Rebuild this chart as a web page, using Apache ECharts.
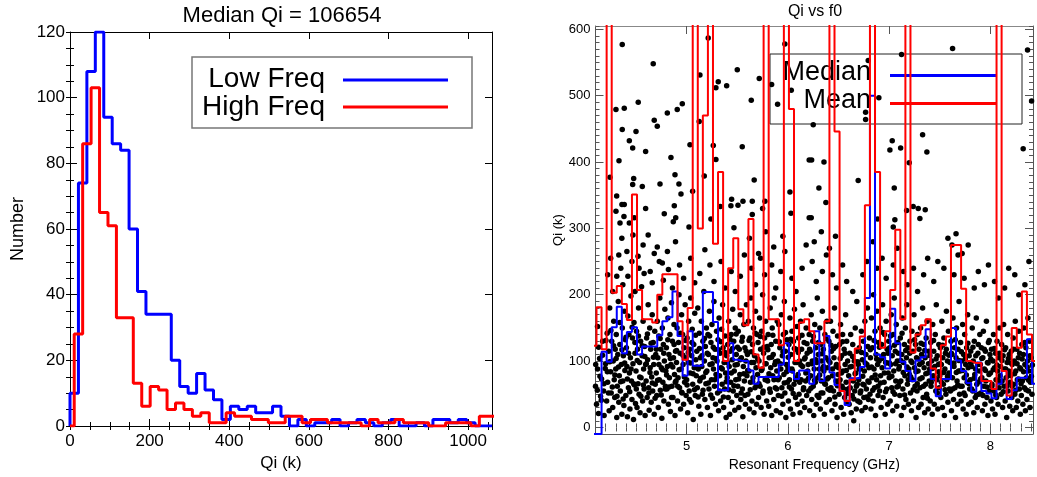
<!DOCTYPE html>
<html>
<head>
<meta charset="utf-8">
<title>Qi histograms</title>
<script src="https://cdn.jsdelivr.net/npm/echarts@6/dist/echarts.min.js"></script>
<style>
  html, body { margin: 0; padding: 0; background: #fff; }
  #chart { width: 1037px; height: 477px; }
</style>
</head>
<body>
<div id="chart"></div>
<script>
  // ---------- left panel: Qi histogram (bins of 21.2 k) ----------
  const qiBinWidth = 21.2;
  const lowFreqStart = 0;
  const highFreqStart = 10.6;
  const lowFreqCounts = [10, 74, 108, 120, 94, 86, 84, 60, 41, 34, 34, 34, 20, 12, 10, 16, 11, 8, 2, 6,
    5, 6, 4, 4, 6, 3, 0, 2, 0, 1, 1, 2, 0, 1, 2, 1, 0, 1, 2, 0, 0, 1, 0, 2, 2, 1, 2, 1, 0, 0];
  const highFreqCounts = [28, 86, 103, 65, 61, 33, 33, 13, 6, 12, 11, 5, 7, 5, 3, 4, 1, 1, 4, 3,
    3, 2, 2, 1, 1, 3, 3, 1, 2, 2, 1, 1, 1, 1, 0, 2, 1, 1, 2, 1, 1, 1, 0, 0, 1, 1, 1, 0, 3, 3];
  const qiTicks = [0, 200, 400, 600, 800, 1000];
  const countTicks = [0, 20, 40, 60, 80, 100, 120];

  // ---------- right panel: Qi vs f0 ----------
  const freqBinStart = 4.06;
  const freqBinWidth = 0.05;
  // median Qi per frequency bin (k); -10 = on the bottom axis
  const medianQi = [-10, -10, 114, 99, 151, 182, 112, 144, 151, 110, 122, 122, 122, 139, 160, 166, 205, 138, 78, 145,
    93, 93, 204, 204, 159, 56, 56, 127, 102, 100, 100, 86, 66, 76, 76, 76, 76, 95, 127, 84,
    73, 86, 86, 66, 145, 70, 138, 83, 64, 55, 34, 74, 74, 91, 195, 500, 110, 106, 89, 179,
    127, 99, 85, 70, 101, 106, 148, 73, 47, 73, 73, 150, 101, 85, 67, 54, 98, 55, 51, 44,
    66, 85, 43, 56, 75, 75, 133, 66];
  // mean Qi per frequency bin (k); values above 600 run off the top
  const meanQi = [123, 181, 118, 650, 203, 213, 186, 162, 351, 207, 163, 163, 158, 200, 231, 231, 231, 160, 102, 180,
    650, 300, 470, 650, 277, 385, 100, 240, 285, 178, 154, 314, 110, 90, 650, 163, 163, 124, 650, 480,
    100, 158, 163, 145, 127, 127, 160, 650, 446, 55, 40, 72, 119, 137, 335, 650, 385, 120, 145, 207,
    298, 163, 650, 113, 140, 154, 163, 89, 60, 124, 137, 275, 275, 209, 100, 97, 97, 70, 70, 58,
    650, 85, 48, 150, 120, 205, 140, 100];
  const freqTicks = [5, 6, 7, 8];
  const qiKTicks = [0, 100, 200, 300, 400, 500, 600];

  // individual resonators [f0 (GHz), Qi (k)] - sparse high ones
  const highDots = [
    [4.364, 577], [4.670, 548], [5.213, 587], [5.131, 531], [5.312, 521], [5.289, 512], [5.395, 515], [5.500, 539],
    [5.717, 526], [5.839, 517], [5.970, 578], [6.033, 508], [5.638, 493], [5.898, 487], [4.302, 479], [4.384, 481],
    [4.522, 490], [4.809, 474], [4.907, 479], [4.957, 488], [4.680, 463], [4.710, 454], [5.124, 461], [4.364, 449],
    [4.500, 446], [4.434, 432], [4.467, 421], [4.595, 416], [5.033, 426], [5.263, 425], [5.549, 423], [4.332, 402],
    [4.845, 407], [5.289, 404], [4.243, 377], [4.477, 375], [4.885, 381], [5.174, 379], [5.667, 373], [4.467, 366],
    [4.562, 363], [4.737, 367], [4.924, 367], [5.059, 356], [4.944, 352], [6.020, 355], [4.309, 349], [4.361, 336],
    [4.384, 336], [4.595, 330], [4.878, 334], [5.332, 333], [5.444, 344], [5.437, 334], [5.507, 335], [5.556, 341],
    [5.648, 341], [5.773, 341], [5.750, 330], [4.302, 326], [4.381, 318], [4.483, 316], [4.779, 322], [4.892, 316],
    [5.240, 314], [5.648, 321], [6.030, 323], [4.342, 308], [4.434, 308], [4.868, 310], [5.023, 302], [5.467, 301],
    [6.210, 403], [6.210, 316],
    [7.626, 571], [8.366, 569], [7.122, 562], [6.793, 553], [6.898, 497], [8.406, 492], [6.250, 456], [6.767, 475],
    [6.767, 464], [7.330, 441], [7.030, 432], [7.007, 418], [7.113, 421], [7.372, 415], [8.323, 420], [6.234, 403],
    [6.356, 400], [7.198, 399], [6.694, 372], [6.306, 361], [7.050, 361], [6.375, 339], [6.230, 316], [6.886, 314],
    [7.056, 313], [7.172, 327], [7.237, 333], [7.287, 330], [7.356, 328], [7.303, 315], [7.040, 302]
  ];
  // the dense cloud below ~300 k
  const cloudDots = [
    [4.10, 62], [4.11, 35], [4.12, 88], [4.13, 21], [4.14, 104], [4.15, 47], [4.16, 73], [4.17, 130], [4.18, 55], [4.185, 18], [4.12, 152],
    [4.20, 96], [4.21, 40], [4.215, 142], [4.22, 68], [4.23, 115], [4.235, 25], [4.24, 180], [4.25, 84], [4.255, 52], [4.26, 130], [4.27, 30], [4.275, 100], [4.28, 160], [4.285, 72], [4.29, 45], [4.295, 118], [4.22, 230], [4.27, 205], [4.25, 255],
    [4.30, 88], [4.305, 140], [4.31, 15], [4.315, 62], [4.32, 110], [4.325, 190], [4.33, 38], [4.335, 78], [4.34, 125], [4.345, 55], [4.35, 240], [4.355, 95], [4.36, 20], [4.365, 150], [4.37, 70], [4.375, 108], [4.38, 33], [4.385, 175], [4.39, 86], [4.395, 132], [4.33, 260], [4.37, 215], [4.36, 285], [4.31, 228],
    [4.40, 48], [4.405, 120], [4.41, 92], [4.415, 16], [4.42, 168], [4.425, 60], [4.43, 140], [4.435, 82], [4.44, 28], [4.445, 105], [4.45, 198], [4.455, 70], [4.46, 42], [4.465, 135], [4.47, 96], [4.475, 12], [4.48, 158], [4.485, 64], [4.49, 112], [4.495, 36], [4.42, 228], [4.46, 250], [4.49, 205], [4.41, 265], [4.47, 290],
    [4.50, 85], [4.505, 145], [4.51, 30], [4.515, 118], [4.52, 66], [4.525, 180], [4.53, 50], [4.535, 98], [4.54, 22], [4.545, 130], [4.55, 75], [4.555, 212], [4.56, 108], [4.565, 40], [4.57, 160], [4.575, 88], [4.58, 58], [4.585, 122], [4.59, 18], [4.595, 95], [4.53, 240], [4.57, 275], [4.52, 258], [4.58, 232],
    [4.60, 70], [4.605, 135], [4.61, 45], [4.615, 102], [4.62, 185], [4.625, 60], [4.63, 26], [4.635, 150], [4.64, 90], [4.645, 118], [4.65, 38], [4.655, 76], [4.66, 170], [4.665, 55], [4.67, 128], [4.675, 95], [4.68, 20], [4.685, 145], [4.69, 65], [4.695, 110], [4.64, 235], [4.68, 262], [4.62, 290], [4.66, 218],
    [4.70, 82], [4.705, 48], [4.71, 160], [4.715, 105], [4.72, 30], [4.725, 138], [4.73, 72], [4.735, 195], [4.74, 56], [4.745, 118], [4.75, 90], [4.755, 14], [4.76, 150], [4.765, 68], [4.77, 125], [4.775, 40], [4.78, 100], [4.785, 178], [4.79, 62], [4.795, 85], [4.73, 250], [4.77, 222], [4.71, 272], [4.76, 248],
    [4.80, 120], [4.805, 58], [4.81, 92], [4.815, 165], [4.82, 35], [4.825, 110], [4.83, 75], [4.835, 140], [4.84, 24], [4.845, 95], [4.85, 188], [4.855, 62], [4.86, 130], [4.865, 45], [4.87, 105], [4.875, 155], [4.88, 80], [4.885, 18], [4.89, 115], [4.895, 70], [4.82, 238], [4.86, 210], [4.89, 280], [4.81, 265],
    [4.90, 98], [4.905, 150], [4.91, 40], [4.915, 75], [4.92, 128], [4.925, 200], [4.93, 60], [4.935, 112], [4.94, 28], [4.945, 88], [4.95, 170], [4.955, 52], [4.96, 140], [4.965, 95], [4.97, 35], [4.975, 120], [4.98, 68], [4.985, 185], [4.99, 105], [4.995, 48], [4.93, 245], [4.97, 225],
    [5.00, 72], [5.005, 135], [5.01, 22], [5.015, 98], [5.02, 160], [5.025, 55], [5.03, 118], [5.035, 82], [5.04, 195], [5.045, 38], [5.05, 108], [5.055, 148], [5.06, 65], [5.065, 12], [5.07, 125], [5.075, 90], [5.08, 172], [5.085, 48], [5.09, 102], [5.095, 78], [5.04, 255], [5.08, 218],
    [5.10, 115], [5.105, 60], [5.11, 180], [5.115, 88], [5.12, 32], [5.125, 142], [5.13, 70], [5.135, 105], [5.14, 20], [5.145, 160], [5.15, 92], [5.155, 50], [5.16, 130], [5.165, 76], [5.17, 205], [5.175, 100], [5.18, 42], [5.185, 122], [5.19, 66], [5.195, 150], [5.13, 232], [5.18, 268],
    [5.20, 85], [5.205, 30], [5.21, 140], [5.215, 110], [5.22, 58], [5.225, 175], [5.23, 95], [5.235, 18], [5.24, 128], [5.245, 72], [5.25, 155], [5.255, 44], [5.26, 105], [5.265, 88], [5.27, 190], [5.275, 62], [5.28, 118], [5.285, 35], [5.29, 80], [5.295, 145], [5.23, 245], [5.27, 220],
    [5.30, 100], [5.305, 52], [5.31, 132], [5.315, 25], [5.32, 165], [5.325, 78], [5.33, 112], [5.335, 40], [5.34, 90], [5.345, 148], [5.35, 65], [5.355, 185], [5.36, 120], [5.365, 30], [5.37, 98], [5.375, 58], [5.38, 138], [5.385, 82], [5.39, 15], [5.395, 108], [5.34, 250], [5.38, 210],
    [5.40, 75], [5.405, 125], [5.41, 45], [5.415, 160], [5.42, 92], [5.425, 20], [5.43, 115], [5.435, 68], [5.44, 140], [5.445, 38], [5.45, 102], [5.455, 178], [5.46, 55], [5.465, 130], [5.47, 85], [5.475, 26], [5.48, 150], [5.485, 72], [5.49, 110], [5.495, 48], [5.44, 235], [5.48, 205],
    [5.50, 95], [5.505, 62], [5.51, 145], [5.515, 30], [5.52, 118], [5.525, 80], [5.53, 170], [5.535, 42], [5.54, 105], [5.545, 130], [5.55, 58], [5.555, 16], [5.56, 92], [5.565, 155], [5.57, 70], [5.575, 120], [5.58, 35], [5.585, 100], [5.59, 185], [5.595, 78], [5.53, 228], [5.57, 260],
    [5.60, 110], [5.605, 50], [5.61, 160], [5.615, 85], [5.62, 28], [5.625, 135], [5.63, 68], [5.635, 195], [5.64, 98], [5.645, 40], [5.65, 125], [5.655, 75], [5.66, 150], [5.665, 22], [5.67, 108], [5.675, 60], [5.68, 175], [5.685, 90], [5.69, 35], [5.695, 140], [5.64, 240], [5.68, 215], [5.62, 285],
    [5.70, 80], [5.705, 128], [5.71, 45], [5.715, 100], [5.72, 165], [5.725, 62], [5.73, 118], [5.735, 30], [5.74, 145], [5.745, 88], [5.75, 200], [5.755, 55], [5.76, 112], [5.765, 20], [5.77, 135], [5.775, 72], [5.78, 160], [5.785, 96], [5.79, 40], [5.795, 122], [5.73, 255], [5.77, 230], [5.71, 262], [5.78, 295],
    [5.80, 70], [5.805, 140], [5.81, 32], [5.815, 105], [5.82, 58], [5.825, 180], [5.83, 90], [5.835, 125], [5.84, 18], [5.845, 150], [5.85, 78], [5.855, 110], [5.86, 42], [5.865, 195], [5.87, 95], [5.875, 60], [5.88, 130], [5.885, 25], [5.89, 85], [5.895, 160], [5.84, 245], [5.88, 210], [5.86, 272],
    [5.90, 100], [5.905, 48], [5.91, 155], [5.915, 75], [5.92, 120], [5.925, 22], [5.93, 88], [5.935, 170], [5.94, 60], [5.945, 108], [5.95, 35], [5.955, 140], [5.96, 80], [5.965, 190], [5.97, 52], [5.975, 115], [5.98, 15], [5.985, 95], [5.99, 132], [5.995, 68], [5.93, 235], [5.97, 265], [5.95, 288],
    [6.00, 90], [6.005, 40], [6.01, 125], [6.015, 72], [6.02, 165], [6.025, 28], [6.03, 110], [6.035, 58], [6.04, 145], [6.045, 85], [6.05, 20], [6.055, 130], [6.06, 65], [6.065, 178], [6.07, 98], [6.075, 45], [6.08, 118], [6.085, 75], [6.09, 152], [6.095, 35], [6.04, 225], [6.08, 205],
    [6.10, 80], [6.105, 135], [6.11, 50], [6.115, 100], [6.12, 22], [6.125, 160], [6.13, 72], [6.135, 118], [6.14, 40], [6.145, 92], [6.15, 185], [6.155, 60], [6.16, 128], [6.165, 30], [6.17, 105], [6.175, 70], [6.18, 150], [6.185, 48], [6.19, 112], [6.195, 85], [6.14, 240], [6.18, 275],
    [6.20, 95], [6.205, 55], [6.21, 140], [6.215, 25], [6.22, 115], [6.225, 78], [6.23, 170], [6.235, 42], [6.24, 100], [6.245, 130], [6.25, 62], [6.255, 18], [6.26, 88], [6.265, 155], [6.27, 68], [6.275, 120], [6.28, 35], [6.285, 98], [6.29, 195], [6.295, 75], [6.24, 250], [6.28, 220], [6.26, 280],
    [6.30, 110], [6.305, 45], [6.31, 88], [6.315, 150], [6.32, 28], [6.325, 125], [6.33, 70], [6.335, 100], [6.34, 175], [6.345, 52], [6.35, 118], [6.355, 85], [6.36, 20], [6.365, 140], [6.37, 65], [6.375, 105], [6.38, 38], [6.385, 160], [6.39, 90], [6.395, 58], [6.34, 235], [6.38, 260], [6.33, 295],
    [6.40, 75], [6.405, 130], [6.41, 42], [6.415, 98], [6.42, 160], [6.425, 60], [6.43, 115], [6.435, 25], [6.44, 88], [6.445, 145], [6.45, 55], [6.455, 105], [6.46, 180], [6.465, 35], [6.47, 122], [6.475, 70], [6.48, 95], [6.485, 15], [6.49, 138], [6.495, 80], [6.44, 230], [6.48, 210], [6.41, 270], [6.47, 288],
    [6.50, 90], [6.505, 50], [6.51, 125], [6.515, 72], [6.52, 155], [6.525, 30], [6.53, 108], [6.535, 62], [6.54, 140], [6.545, 85], [6.55, 20], [6.555, 118], [6.56, 45], [6.565, 95], [6.57, 170], [6.575, 68], [6.58, 130], [6.585, 38], [6.59, 100], [6.595, 58], [6.54, 245], [6.58, 220],
    [6.60, 78], [6.605, 35], [6.61, 112], [6.615, 60], [6.62, 140], [6.625, 22], [6.63, 92], [6.635, 48], [6.64, 125], [6.645, 70], [6.65, 10], [6.655, 100], [6.66, 55], [6.665, 150], [6.67, 82], [6.675, 28], [6.68, 115], [6.685, 65], [6.69, 40], [6.695, 95], [6.64, 205], [6.68, 190],
    [6.70, 72], [6.705, 120], [6.71, 38], [6.715, 88], [6.72, 55], [6.725, 145], [6.73, 25], [6.735, 102], [6.74, 65], [6.745, 130], [6.75, 45], [6.755, 85], [6.76, 160], [6.765, 30], [6.77, 110], [6.775, 58], [6.78, 95], [6.785, 180], [6.79, 70], [6.795, 42], [6.74, 230], [6.78, 250],
    [6.80, 90], [6.805, 135], [6.81, 50], [6.815, 105], [6.82, 28], [6.825, 165], [6.83, 75], [6.835, 120], [6.84, 40], [6.845, 200], [6.85, 88], [6.855, 60], [6.86, 145], [6.865, 18], [6.87, 110], [6.875, 72], [6.88, 175], [6.885, 95], [6.89, 48], [6.895, 128], [6.84, 280], [6.88, 240],
    [6.90, 100], [6.905, 55], [6.91, 150], [6.915, 78], [6.92, 30], [6.925, 125], [6.93, 90], [6.935, 185], [6.94, 45], [6.945, 110], [6.95, 68], [6.955, 140], [6.96, 20], [6.965, 98], [6.97, 160], [6.975, 58], [6.98, 118], [6.985, 35], [6.99, 82], [6.995, 130], [6.93, 255], [6.97, 225],
    [7.00, 75], [7.005, 120], [7.01, 40], [7.015, 95], [7.02, 170], [7.025, 60], [7.03, 108], [7.035, 25], [7.04, 140], [7.045, 85], [7.05, 195], [7.055, 50], [7.06, 115], [7.065, 70], [7.07, 155], [7.075, 32], [7.08, 100], [7.085, 128], [7.09, 62], [7.095, 88], [7.04, 245], [7.08, 270],
    [7.10, 92], [7.105, 48], [7.11, 135], [7.115, 70], [7.12, 18], [7.125, 110], [7.13, 165], [7.135, 58], [7.14, 98], [7.145, 30], [7.15, 125], [7.155, 78], [7.16, 150], [7.165, 42], [7.17, 105], [7.175, 185], [7.18, 65], [7.185, 120], [7.19, 35], [7.195, 88], [7.14, 235], [7.18, 215],
    [7.20, 80], [7.205, 130], [7.21, 52], [7.215, 100], [7.22, 25], [7.225, 145], [7.23, 72], [7.235, 115], [7.24, 40], [7.245, 170], [7.25, 90], [7.255, 62], [7.26, 125], [7.265, 15], [7.27, 105], [7.275, 55], [7.28, 140], [7.285, 85], [7.29, 30], [7.295, 118], [7.24, 240], [7.28, 205],
    [7.30, 95], [7.305, 60], [7.31, 150], [7.315, 35], [7.32, 110], [7.325, 75], [7.33, 180], [7.335, 45], [7.34, 125], [7.345, 90], [7.35, 22], [7.355, 105], [7.36, 65], [7.365, 135], [7.37, 50], [7.375, 160], [7.38, 82], [7.385, 28], [7.39, 115], [7.395, 70], [7.34, 230], [7.38, 255],
    [7.40, 88], [7.405, 40], [7.41, 128], [7.415, 68], [7.42, 100], [7.425, 20], [7.43, 155], [7.435, 78], [7.44, 115], [7.445, 35], [7.45, 92], [7.455, 140], [7.46, 55], [7.465, 185], [7.47, 72], [7.475, 108], [7.48, 28], [7.485, 95], [7.49, 125], [7.495, 60], [7.44, 220], [7.48, 250],
    [7.50, 78], [7.505, 120], [7.51, 45], [7.515, 95], [7.52, 160], [7.525, 30], [7.53, 105], [7.535, 65], [7.54, 135], [7.545, 18], [7.55, 88], [7.555, 112], [7.56, 50], [7.565, 175], [7.57, 72], [7.575, 100], [7.58, 38], [7.585, 145], [7.59, 82], [7.595, 58], [7.54, 240], [7.58, 285],
    [7.60, 98], [7.605, 55], [7.61, 130], [7.615, 25], [7.62, 110], [7.625, 75], [7.63, 165], [7.635, 42], [7.64, 92], [7.645, 120], [7.65, 60], [7.655, 15], [7.66, 105], [7.665, 150], [7.67, 70], [7.675, 35], [7.68, 118], [7.685, 85], [7.69, 190], [7.695, 50], [7.64, 230], [7.68, 260], [7.62, 275], [7.66, 292],
    [7.70, 85], [7.705, 128], [7.71, 40], [7.715, 100], [7.72, 62], [7.725, 155], [7.73, 28], [7.735, 110], [7.74, 75], [7.745, 140], [7.75, 48], [7.755, 95], [7.76, 20], [7.765, 120], [7.77, 68], [7.775, 170], [7.78, 90], [7.785, 35], [7.79, 108], [7.795, 58], [7.74, 225], [7.78, 275], [7.72, 262],
    [7.80, 72], [7.805, 115], [7.81, 38], [7.815, 92], [7.82, 150], [7.825, 55], [7.83, 100], [7.835, 22], [7.84, 130], [7.845, 80], [7.85, 45], [7.855, 108], [7.86, 165], [7.865, 65], [7.87, 30], [7.875, 95], [7.88, 125], [7.885, 50], [7.89, 85], [7.895, 140], [7.84, 210], [7.88, 235],
    [7.90, 95], [7.905, 52], [7.91, 120], [7.915, 75], [7.92, 25], [7.925, 105], [7.93, 145], [7.935, 62], [7.94, 88], [7.945, 35], [7.95, 115], [7.955, 70], [7.96, 160], [7.965, 45], [7.97, 98], [7.975, 18], [7.98, 128], [7.985, 80], [7.99, 55], [7.995, 110], [7.94, 215], [7.98, 245],
    [8.00, 82], [8.005, 40], [8.01, 118], [8.015, 65], [8.02, 28], [8.025, 100], [8.03, 140], [8.035, 55], [8.04, 90], [8.045, 20], [8.05, 112], [8.055, 72], [8.06, 45], [8.065, 130], [8.07, 85], [8.075, 35], [8.08, 105], [8.085, 60], [8.09, 150], [8.095, 78], [8.04, 220], [8.08, 195],
    [8.10, 92], [8.105, 50], [8.11, 125], [8.115, 70], [8.12, 30], [8.125, 108], [8.13, 155], [8.135, 62], [8.14, 88], [8.145, 40], [8.15, 120], [8.155, 75], [8.16, 15], [8.165, 98], [8.17, 140], [8.175, 55], [8.18, 85], [8.185, 110], [8.19, 32], [8.195, 68], [8.14, 210], [8.18, 240],
    [8.20, 78], [8.205, 115], [8.21, 45], [8.215, 95], [8.22, 25], [8.225, 135], [8.23, 65], [8.235, 100], [8.24, 50], [8.245, 160], [8.25, 85], [8.255, 30], [8.26, 118], [8.265, 72], [8.27, 40], [8.275, 105], [8.28, 145], [8.285, 58], [8.29, 90], [8.295, 20], [8.24, 230], [8.28, 200],
    [8.30, 88], [8.305, 48], [8.31, 125], [8.315, 70], [8.32, 35], [8.325, 110], [8.33, 150], [8.335, 60], [8.34, 95], [8.345, 25], [8.35, 120], [8.355, 75], [8.36, 42], [8.365, 100], [8.37, 165], [8.375, 55], [8.38, 85], [8.385, 130], [8.39, 30], [8.395, 68], [8.40, 105], [8.41, 50], [8.34, 215], [8.38, 250]
  ];
  // more of the core of the cloud (40-160 k), where the dots overlap
  const coreDots = [
    [4.102, 95], [4.118, 56], [4.131, 121], [4.144, 77], [4.157, 41], [4.169, 109], [4.183, 66], [4.196, 89],
    [4.203, 131], [4.217, 84], [4.228, 52], [4.241, 99], [4.252, 146], [4.266, 61], [4.279, 123], [4.291, 79],
    [4.304, 104], [4.312, 47], [4.327, 91], [4.339, 158], [4.348, 69], [4.361, 117], [4.373, 43], [4.388, 97],
    [4.401, 136], [4.414, 73], [4.426, 112], [4.438, 54], [4.451, 88], [4.462, 151], [4.477, 66], [4.489, 128],
    [4.503, 58], [4.512, 101], [4.524, 138], [4.537, 76], [4.548, 47], [4.561, 123], [4.573, 64], [4.587, 107],
    [4.602, 96], [4.613, 141], [4.627, 52], [4.638, 83], [4.649, 127], [4.661, 67], [4.672, 106], [4.688, 44],
    [4.701, 118], [4.713, 71], [4.726, 95], [4.738, 134], [4.749, 49], [4.762, 87], [4.774, 112], [4.789, 58],
    [4.802, 79], [4.814, 132], [4.827, 61], [4.839, 104], [4.851, 45], [4.863, 91], [4.876, 125], [4.888, 68],
    [4.901, 116], [4.912, 62], [4.926, 87], [4.938, 142], [4.951, 53], [4.963, 109], [4.977, 76], [4.989, 131],
    [5.004, 64], [5.016, 113], [5.028, 42], [5.039, 97], [5.052, 128], [5.063, 81], [5.077, 57], [5.088, 139],
    [5.102, 91], [5.113, 46], [5.127, 119], [5.138, 74], [5.151, 108], [5.162, 56], [5.176, 134], [5.189, 83],
    [5.203, 112], [5.214, 67], [5.227, 138], [5.238, 49], [5.252, 96], [5.263, 121], [5.277, 72], [5.289, 104],
    [5.302, 78], [5.316, 117], [5.327, 55], [5.339, 129], [5.352, 88], [5.363, 46], [5.378, 113], [5.391, 69],
    [5.404, 98], [5.417, 57], [5.428, 133], [5.441, 82], [5.453, 119], [5.466, 63], [5.478, 94], [5.489, 141],
    [5.502, 121], [5.514, 73], [5.527, 102], [5.538, 52], [5.551, 136], [5.564, 81], [5.576, 48], [5.588, 115],
    [5.603, 86], [5.616, 131], [5.628, 57], [5.639, 114], [5.652, 69], [5.663, 98], [5.677, 142], [5.689, 63],
    [5.702, 103], [5.714, 66], [5.727, 137], [5.738, 86], [5.752, 52], [5.763, 121], [5.776, 96], [5.788, 74],
    [5.802, 117], [5.813, 81], [5.826, 53], [5.839, 106], [5.851, 139], [5.862, 72], [5.877, 99], [5.889, 58],
    [5.903, 72], [5.915, 129], [5.926, 96], [5.938, 47], [5.951, 114], [5.964, 67], [5.976, 143], [5.987, 84],
    [6.003, 106], [6.014, 61], [6.027, 133], [6.039, 88], [6.052, 51], [6.064, 119], [6.077, 72], [6.089, 98],
    [6.102, 113], [6.116, 68], [6.128, 94], [6.139, 139], [6.152, 57], [6.163, 103], [6.177, 82], [6.188, 126],
    [6.203, 74], [6.214, 118], [6.227, 59], [6.238, 96], [6.251, 137], [6.263, 71], [6.276, 102], [6.289, 48],
    [6.302, 128], [6.313, 79], [6.327, 52], [6.338, 111], [6.352, 92], [6.364, 66], [6.377, 134], [6.388, 73],
    [6.401, 101], [6.414, 56], [6.426, 124], [6.439, 78], [6.452, 119], [6.463, 46], [6.476, 92], [6.489, 63],
    [6.503, 67], [6.516, 104], [6.528, 82], [6.539, 129], [6.552, 58], [6.564, 112], [6.577, 86], [6.588, 51],
    [6.602, 58], [6.613, 91], [6.626, 71], [6.638, 107], [6.651, 43], [6.663, 81], [6.676, 62], [6.689, 99],
    [6.703, 88], [6.714, 52], [6.727, 113], [6.739, 77], [6.752, 64], [6.763, 97], [6.777, 46], [6.788, 122],
    [6.801, 68], [6.813, 117], [6.826, 91], [6.838, 56], [6.851, 131], [6.862, 79], [6.876, 103], [6.889, 62],
    [6.903, 121], [6.914, 67], [6.927, 104], [6.939, 143], [6.952, 82], [6.964, 54], [6.977, 97], [6.988, 112],
    [7.002, 97], [7.013, 138], [7.026, 77], [7.038, 54], [7.051, 124], [7.063, 96], [7.076, 61], [7.089, 112],
    [7.101, 68], [7.114, 101], [7.127, 142], [7.139, 83], [7.152, 49], [7.163, 116], [7.176, 91], [7.188, 72],
    [7.202, 112], [7.213, 76], [7.226, 98], [7.238, 57], [7.251, 132], [7.264, 84], [7.277, 66], [7.289, 103],
    [7.303, 73], [7.314, 127], [7.326, 98], [7.339, 62], [7.351, 116], [7.362, 81], [7.377, 44], [7.388, 96],
    [7.402, 108], [7.413, 62], [7.427, 89], [7.438, 131], [7.452, 74], [7.463, 103], [7.476, 52], [7.489, 84],
    [7.502, 96], [7.515, 68], [7.527, 124], [7.538, 83], [7.551, 57], [7.564, 118], [7.576, 77], [7.589, 109],
    [7.603, 76], [7.614, 112], [7.627, 58], [7.639, 97], [7.652, 132], [7.663, 83], [7.677, 64], [7.688, 101],
    [7.701, 62], [7.713, 114], [7.726, 86], [7.738, 52], [7.751, 103], [7.762, 79], [7.777, 127], [7.788, 66],
    [7.803, 97], [7.814, 58], [7.827, 121], [7.838, 74], [7.852, 88], [7.863, 49], [7.876, 112], [7.889, 69],
    [7.902, 73], [7.914, 104], [7.926, 48], [7.939, 118], [7.951, 86], [7.964, 61], [7.977, 97], [7.988, 131],
    [8.003, 103], [8.014, 62], [8.027, 87], [8.038, 119], [8.052, 49], [8.063, 94], [8.076, 71], [8.089, 112],
    [8.102, 68], [8.113, 101], [8.126, 54], [8.139, 117], [8.151, 88], [8.164, 63], [8.177, 104], [8.188, 79],
    [8.202, 97], [8.214, 62], [8.227, 118], [8.238, 81], [8.251, 56], [8.263, 96], [8.276, 73], [8.288, 112],
    [8.302, 66], [8.313, 103], [8.327, 84], [8.339, 128], [8.351, 57], [8.363, 91], [8.377, 71], [8.389, 108], [8.404, 77], [8.414, 94]
  ];

  // histogram outline points for a step line
  function histSteps(start, width, counts, lead) {
    const pts = lead ? [[0, 0]] : [];
    counts.forEach((c, i) => pts.push([+(start + i * width).toFixed(3), c]));
    pts.push([+(start + counts.length * width).toFixed(3), counts[counts.length - 1]]);
    return pts;
  }

  const FONT = "Liberation Sans";

  // one axis of a boxed (IDL style) frame: ticks inside, labels only where asked
  function frameAxis(grid, pos, min, max, tickLen, color, extra) {
    const ax = {
      type: "value",
      gridIndex: grid,
      position: pos,
      min: min,
      max: max,
      axisLine: { show: true, onZero: false, lineStyle: { color: color, width: 1 } },
      axisTick: { show: true, inside: true, length: tickLen, lineStyle: { color: color } },
      axisLabel: { show: false },
      splitLine: { show: false },
    };
    return Object.assign(ax, extra || {});
  }

  function majorTicks(vals, len, color) {
    return { show: true, inside: true, length: len, customValues: vals, lineStyle: { color: color } };
  }

  const plain = (v) => String(v);
  const leftLbl = { show: true, fontFamily: FONT, fontSize: 17, color: "#000", formatter: plain };
  const rightLbl = { show: true, fontFamily: FONT, fontSize: 13, color: "#000", formatter: plain };

  const option = {
    animation: false,
    backgroundColor: "#fff",
    grid: [
      { left: 70, top: 32, width: 422, height: 394 },
      { left: 595.5, top: 26, width: 437.5, height: 412 },
    ],
    xAxis: [
      // left panel
      frameAxis(0, "bottom", 0, 1060, 7, "#000", {
        axisTick: majorTicks(qiTicks, 7, "#000"),
        axisLabel: Object.assign({ customValues: qiTicks, margin: 7 }, leftLbl),
        name: "Qi (k)", nameLocation: "middle", nameGap: 28,
        nameTextStyle: { fontFamily: FONT, fontSize: 17, color: "#000" },
      }),
      frameAxis(0, "bottom", 0, 1060, 4, "#000", { interval: 50, axisLine: { show: false } }),
      frameAxis(0, "top", 0, 1060, 7, "#000", { axisTick: majorTicks(qiTicks, 7, "#000") }),
      frameAxis(0, "top", 0, 1060, 4, "#000", { interval: 50, axisLine: { show: false } }),
      // right panel
      frameAxis(1, "bottom", 4.1, 8.42, 8, "#555", {
        axisTick: majorTicks(freqTicks, 8, "#555"),
        axisLabel: Object.assign({ customValues: freqTicks, margin: 6 }, rightLbl),
        name: "Resonant Frequency (GHz)", nameLocation: "middle", nameGap: 20,
        nameTextStyle: { fontFamily: FONT, fontSize: 14, color: "#000" },
      }),
      frameAxis(1, "bottom", 4.1, 8.42, 4, "#555", { interval: 0.1, axisLine: { show: false } }),
      frameAxis(1, "top", 4.1, 8.42, 8, "#888", { axisTick: majorTicks(freqTicks, 8, "#555") }),
      frameAxis(1, "top", 4.1, 8.42, 4, "#555", { interval: 0.1, axisLine: { show: false } }),
    ],
    yAxis: [
      // left panel
      frameAxis(0, "left", 0, 120, 7, "#000", {
        axisTick: majorTicks(countTicks, 7, "#000"),
        axisLabel: Object.assign({ customValues: countTicks, margin: 5 }, leftLbl),
        name: "Number", nameLocation: "middle", nameGap: 43,
        nameTextStyle: { fontFamily: FONT, fontSize: 18, color: "#000" },
      }),
      frameAxis(0, "left", 0, 120, 4, "#000", { interval: 5, axisLine: { show: false } }),
      frameAxis(0, "right", 0, 120, 7, "#000", { axisTick: majorTicks(countTicks, 7, "#000") }),
      frameAxis(0, "right", 0, 120, 4, "#000", { interval: 5, axisLine: { show: false } }),
      // right panel
      frameAxis(1, "left", -10, 605, 8, "#555", {
        axisTick: majorTicks(qiKTicks, 8, "#555"),
        axisLabel: Object.assign({ customValues: qiKTicks, margin: 5 }, rightLbl),
        name: "Qi (k)", nameLocation: "middle", nameGap: 22,
        nameTextStyle: { fontFamily: FONT, fontSize: 13, color: "#000" },
      }),
      frameAxis(1, "left", -10, 605, 4, "#555", { interval: 10, axisLine: { show: false } }),
      frameAxis(1, "right", -10, 605, 8, "#555", { axisTick: majorTicks(qiKTicks, 8, "#555") }),
      frameAxis(1, "right", -10, 605, 4, "#555", { interval: 10, axisLine: { show: false } }),
    ],
    series: [
      {
        name: "Low Freq",
        type: "line",
        xAxisIndex: 0,
        yAxisIndex: 0,
        step: "end",
        symbol: "none",
        lineStyle: { color: "#0000ff", width: 3 },
        data: histSteps(lowFreqStart, qiBinWidth, lowFreqCounts, true),
      },
      {
        name: "High Freq",
        type: "line",
        xAxisIndex: 0,
        yAxisIndex: 0,
        step: "end",
        symbol: "none",
        lineStyle: { color: "#ff0000", width: 3 },
        data: histSteps(highFreqStart, qiBinWidth, highFreqCounts, true),
      },
      {
        name: "Resonators",
        type: "scatter",
        xAxisIndex: 4,
        yAxisIndex: 4,
        symbol: "circle",
        symbolSize: 5.5,
        itemStyle: { color: "#000", opacity: 1 },
        data: cloudDots.concat(coreDots, highDots),
      },
      {
        name: "Median",
        type: "line",
        xAxisIndex: 4,
        yAxisIndex: 4,
        step: "end",
        symbol: "none",
        lineStyle: { color: "#0000ff", width: 2 },
        data: histSteps(freqBinStart, freqBinWidth, medianQi, false),
      },
      {
        name: "Mean",
        type: "line",
        xAxisIndex: 4,
        yAxisIndex: 4,
        step: "end",
        symbol: "none",
        lineStyle: { color: "#ff0000", width: 2 },
        data: histSteps(freqBinStart, freqBinWidth, meanQi, false),
      },
    ],
    graphic: [
      // titles
      { type: "text", x: 282, y: 16, style: { text: "Median Qi = 106654", align: "center", verticalAlign: "middle", font: '22px "Liberation Sans"', fill: "#000" } },
      { type: "text", x: 815, y: 12, style: { text: "Qi vs f0", align: "center", verticalAlign: "middle", font: '16px "Liberation Sans"', fill: "#000" } },
      // left legend
      { type: "rect", shape: { x: 192, y: 57, width: 280, height: 71 }, style: { fill: "none", stroke: "#777", lineWidth: 1.5 } },
      { type: "text", x: 325, y: 79, style: { text: "Low Freq", align: "right", verticalAlign: "middle", font: '28px "Liberation Sans"', fill: "#000" } },
      { type: "text", x: 325, y: 107, style: { text: "High Freq", align: "right", verticalAlign: "middle", font: '28px "Liberation Sans"', fill: "#000" } },
      { type: "line", shape: { x1: 343, y1: 80, x2: 448, y2: 80 }, style: { stroke: "#0000ff", lineWidth: 3 } },
      { type: "line", shape: { x1: 343, y1: 107, x2: 448, y2: 107 }, style: { stroke: "#ff0000", lineWidth: 3 } },
      // right legend
      { type: "rect", shape: { x: 770, y: 54, width: 252, height: 70 }, style: { fill: "none", stroke: "#222", lineWidth: 1 } },
      { type: "text", x: 871, y: 73, style: { text: "Median", align: "right", verticalAlign: "middle", font: '27px "Liberation Sans"', fill: "#000" } },
      { type: "text", x: 871, y: 101, style: { text: "Mean", align: "right", verticalAlign: "middle", font: '27px "Liberation Sans"', fill: "#000" } },
      { type: "line", shape: { x1: 890, y1: 75.5, x2: 997, y2: 75.5 }, style: { stroke: "#0000ff", lineWidth: 3 } },
      { type: "line", shape: { x1: 890, y1: 103.5, x2: 997, y2: 103.5 }, style: { stroke: "#ff0000", lineWidth: 3 } },
    ],
  };

  const chart = echarts.init(document.getElementById("chart"));
  chart.setOption(option);
</script>
</body>
</html>
